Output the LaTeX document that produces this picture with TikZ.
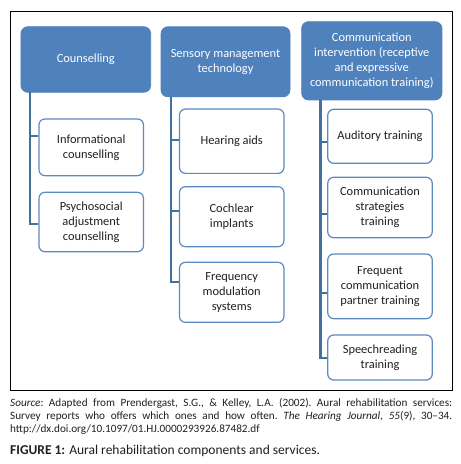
\documentclass[tikz,border=0pt]{standalone}
\usepackage{fontspec}
\setmainfont{Carlito}
\definecolor{hdrblue}{HTML}{4F81BD}
\definecolor{boxblue}{HTML}{5B8AC2}
\definecolor{linkblue}{HTML}{41719C}
\definecolor{txt}{HTML}{231F20}
\begin{document}
\begin{tikzpicture}[x=1pt,y=-1pt,
  hdr/.style={draw=hdrblue, fill=hdrblue, rounded corners=7pt, text=white, align=center,
    inner sep=0pt, font=\fontsize{12.4}{15}\selectfont, line width=0.8pt},
  child/.style={draw=boxblue, fill=white, rounded corners=6pt, text=txt, align=center,
    inner sep=0pt, font=\fontsize{12.4}{15}\selectfont, line width=1.2pt,
    minimum width=104.5pt},
  link/.style={draw=linkblue, line width=2.2pt}
]
\useasboundingbox (0,0) rectangle (461,464);
\fill[white] (0,0) rectangle (461,464);
\draw[line width=0.9pt, black] (10,11) rectangle (452,390);

% headers
\node[hdr, minimum width=129.7pt, minimum height=65.6pt] (h1) at (85.8,59.5) {Counselling};
\node[hdr, minimum width=129pt, minimum height=70pt] (h2) at (225.5,61.8) {Sensory management\\technology};
\node[hdr, minimum width=140.3pt, minimum height=78.3pt] (h3) at (371.8,60.8) {Communication\\intervention (receptive\\and expressive\\communication training)};

% children column 1
\node[child, minimum height=56.7pt] (a1) at (91.2,147.3) {Informational\\counselling};
\node[child, minimum height=59.4pt] (a2) at (91.2,222) {Psychosocial\\adjustment\\counselling};
% column 2
\node[child, minimum height=64.3pt] (b1) at (231.7,141.2) {Hearing aids};
\node[child, minimum height=60pt] (b2) at (231.7,216.7) {Cochlear\\implants};
\node[child, minimum height=60pt] (b3) at (231.7,292.3) {Frequency\\modulation\\systems};
% column 3
\node[child, minimum height=54pt] (c1) at (380,136.3) {Auditory training};
\node[child, minimum height=60.4pt] (c2) at (380,207.5) {Communication\\strategies\\training};
\node[child, minimum height=64.7pt] (c3) at (380,286.3) {Frequent\\communication\\partner training};
\node[child, minimum height=45pt] (c4) at (380,357.5) {Speechreading\\training};

% trunk tops
\coordinate (t1) at (30,92.3);
\coordinate (t2) at (170.7,96.7);
\coordinate (t3) at (320.5,100);

% connectors
\draw[link] (t1) |- ([yshift=11.3pt]a1.west);
\draw[link] (t1) |- ([yshift=-2pt]a2.west);
\draw[link] (t2) |- ([yshift=1.2pt]b1.west);
\draw[link] (t2) |- ([yshift=5.7pt]b2.west);
\draw[link] (t2) |- ([yshift=10.6pt]b3.west);
\draw[link] (t3) |- ([yshift=-6pt]c1.west);
\draw[link] (t3) |- ([yshift=-6.8pt]c2.west);
\draw[link] (t3) |- ([yshift=-7pt]c3.west);
\draw[link] (t3) |- ([yshift=-0.8pt]c4.west);

% caption
\node[anchor=north west, inner sep=0pt, text width=442pt, align=justify, text=txt,
  font=\fontsize{11.2}{13.3}\selectfont\frenchspacing] (src) at (10,398)
  {\textit{Source}: Adapted from Prendergast, S.G., \& Kelley, L.A. (2002). Aural rehabilitation services:\linebreak
   Survey reports who offers which ones and how often. \textit{The Hearing Journal, 55}(9), 30--34.\linebreak
   http://dx.doi.org/10.1097/01.HJ.0000293926.87482.df\hfill\null};
\node[anchor=north west, inner sep=0pt, text=txt, font=\fontsize{13.5}{15}\selectfont] (fig) at (10,444.5)
  {\textbf{FIGURE 1:} Aural rehabilitation components and services.};
\end{tikzpicture}
\end{document}
